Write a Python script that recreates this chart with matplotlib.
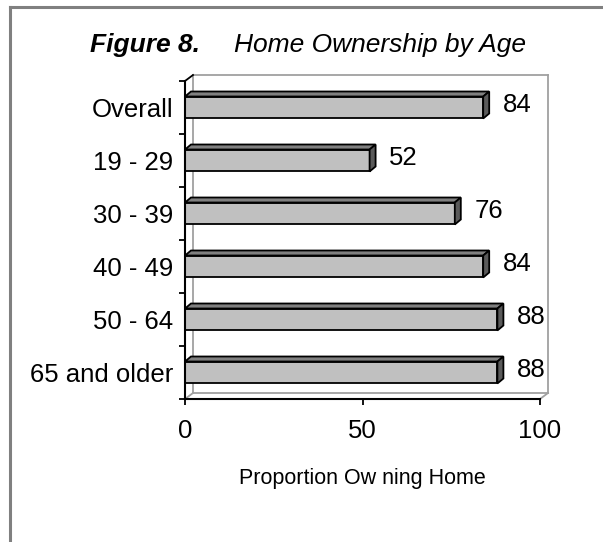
import matplotlib
matplotlib.use("Agg")
import matplotlib.pyplot as plt
from matplotlib.patches import Polygon
from matplotlib.lines import Line2D

plt.rcParams['font.family'] = ['Liberation Sans', 'DejaVu Sans']

groups = ["Overall", "19 - 29", "30 - 39", "40 - 49", "50 - 64", "65 and older"]
owning = [84, 52, 76, 84, 88, 88]
xticks = [0, 50, 100]

W, H = 603, 542
fig = plt.figure(figsize=(W / 100, H / 100), dpi=100)

# frame round the figure (only top and left show)
fig.add_artist(Line2D([9.5 / W, 1], [1 - 6.5 / H, 1 - 6.5 / H], color="#808080", lw=2.2, transform=fig.transFigure))
fig.add_artist(Line2D([9.5 / W, 9.5 / W], [0, 1 - 6.5 / H], color="#808080", lw=2.2, transform=fig.transFigure))

ax = fig.add_axes([185 / W, 1 - 399 / H, 355 / W, 318 / H])
ax.set_xlim(0, 100)
ax.set_ylim(len(groups) - 0.5, -0.5)

# 3d depth in data units
px_x = 100 / 355.0
px_y = len(groups) / 318.0
wdx, wdy = 8 * px_x, -6 * px_y
bdx, bdy = 6 * px_x, -5 * px_y
bh = 0.415

# back wall
y0, y1 = len(groups) - 0.5, -0.5
wall = "#a0a0a0"
for xs, ys in [([wdx, wdx], [y0 + wdy, y1 + wdy]),
               ([wdx, 100 + wdx], [y1 + wdy, y1 + wdy]),
               ([100 + wdx, 100 + wdx], [y1 + wdy, y0 + wdy]),
               ([wdx, 100 + wdx], [y0 + wdy, y0 + wdy]),
               ([0, wdx], [y0, y0 + wdy]),
               ([100, 100 + wdx], [y0, y0 + wdy])]:
    ax.plot(xs, ys, color=wall, lw=1.3, clip_on=False, zorder=1)
ax.plot([0, wdx], [y1, y1 + wdy], color="black", lw=1.3, clip_on=False, zorder=1)

for i, v in enumerate(owning):
    top, bot = i - bh / 2, i + bh / 2
    ax.barh(i, v, height=bh, color="#c0c0c0", edgecolor="black", linewidth=1.3, zorder=3)
    ax.add_patch(Polygon([(0, top), (v, top), (v + bdx, top + bdy), (bdx, top + bdy)],
                         closed=True, facecolor="#808080", edgecolor="black", lw=1.3, zorder=3, clip_on=False))
    ax.add_patch(Polygon([(v, top), (v + bdx, top + bdy), (v + bdx, bot + bdy), (v, bot)],
                         closed=True, facecolor="#5a5a5a", edgecolor="black", lw=1.3, zorder=3, clip_on=False))
    ax.annotate(str(v), xy=(v, i), xytext=(14, 1.5), textcoords="offset points",
                va="center", ha="left", fontsize=18.5, annotation_clip=False)

for s in ["top", "right"]:
    ax.spines[s].set_visible(False)
for s in ["left", "bottom"]:
    ax.spines[s].set_linewidth(1.5)
    ax.spines[s].set_zorder(4)

ax.set_xticks(xticks)
ax.set_xticklabels([str(t) for t in xticks], fontsize=18.5)
ax.tick_params(axis="x", direction="out", length=4.5, width=1.3, pad=10)
ax.set_yticks(range(len(groups)))
ax.set_yticklabels(groups, fontsize=18.5)
ax.set_yticks([i - 0.5 for i in range(len(groups) + 1)], minor=True)
ax.tick_params(axis="y", which="major", length=0, pad=8.5)
ax.tick_params(axis="y", which="minor", direction="out", length=4.5, width=1.3)
ax.set_facecolor("none")

ax.set_xlabel("Proportion Ow ning Home", fontsize=15.5, labelpad=18)

fig.text(90 / W, 1 - 52 / H, "Figure 8.", fontsize=19, fontweight="bold", fontstyle="italic",
         ha="left", va="baseline")
fig.text(526 / W, 1 - 52 / H, "Home Ownership by Age", fontsize=19, fontstyle="italic",
         ha="right", va="baseline")

fig.savefig("out.png", dpi=100)
